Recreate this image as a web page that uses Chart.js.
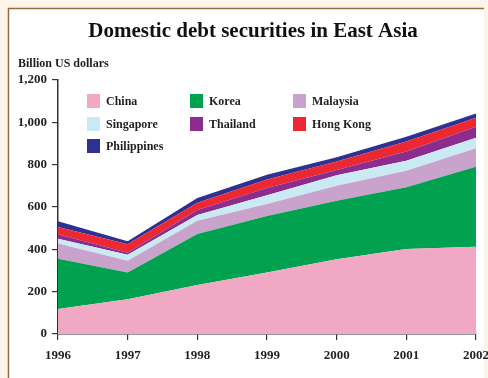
<!DOCTYPE html>
<html lang="en">
<head>
<meta charset="utf-8">
<title>Domestic debt securities in East Asia</title>
<script src="https://cdn.jsdelivr.net/npm/chart.js"></script>
<style>
  html, body { margin: 0; padding: 0; background: #fdf5ea; }
  #wrap { width: 488px; height: 378px; }
</style>
</head>
<body>
<div id="wrap"><canvas id="debtChart" width="488" height="378"></canvas></div>
<script>
// Data (billion US dollars)
const years = ['1996', '1997', '1998', '1999', '2000', '2001', '2002'];
const china       = [118, 164, 231, 290, 353, 401, 412];
const korea       = [238, 126, 241, 267, 277, 292, 378];
const malaysia    = [72, 56, 63, 57, 70, 78, 87];
const singapore   = [22, 28, 27, 41, 50, 48, 50];
const thailand    = [21, 10, 24, 35, 25, 43, 52];
const hongKong    = [34, 40, 34, 40, 40, 48, 43];
const philippines = [28, 14, 22, 22, 20, 22, 20];
const yTicks = [0, 200, 400, 600, 800, 1000, 1200];

const serif = '"Liberation Serif", "DejaVu Serif", serif';
const ink = '#231f20';

function area(label, data, color, fill) {
    return {
        label: label,
        data: data,
        backgroundColor: color,
        borderColor: color,
        borderWidth: 0,
        pointRadius: 0,
        tension: 0,
        fill: fill
    };
}

// panel background, title and axis caption
const frame = {
    id: 'frame',
    beforeDraw(chart) {
        const ctx = chart.ctx;
        ctx.save();
        ctx.fillStyle = '#fdf5ea';
        ctx.fillRect(0, 0, chart.width, chart.height);
        ctx.fillStyle = '#ffffff';
        ctx.fillRect(9, 9, 475, chart.height - 9);
        ctx.strokeStyle = '#9a6a3a';
        ctx.lineWidth = 1.5;
        ctx.beginPath();
        ctx.moveTo(8.5, chart.height);
        ctx.lineTo(8.5, 8.5);
        ctx.lineTo(484, 8.5);
        ctx.stroke();

        ctx.fillStyle = '#111';
        ctx.textAlign = 'center';
        ctx.textBaseline = 'middle';
        ctx.font = 'bold 21px ' + serif;
        ctx.fillText('Domestic debt securities in East Asia', 253, 32);

        ctx.fillStyle = ink;
        ctx.textAlign = 'left';
        ctx.font = 'bold 12px ' + serif;
        ctx.fillText('Billion US dollars', 18, 64);
        ctx.restore();
    }
};

// three-column legend inside the plot
const gridLegend = {
    id: 'gridLegend',
    afterDraw(chart) {
        const ctx = chart.ctx;
        const boxX = [87, 190, 293];
        const rowY = [101, 124, 146];
        ctx.save();
        ctx.font = 'bold 12px ' + serif;
        ctx.textBaseline = 'middle';
        ctx.textAlign = 'left';
        chart.data.datasets.forEach((ds, i) => {
            const x = boxX[i % 3];
            const y = rowY[Math.floor(i / 3)];
            ctx.fillStyle = ds.backgroundColor;
            ctx.fillRect(x, y - 7, 13, 14);
            ctx.fillStyle = ink;
            ctx.fillText(ds.label, x + 19, y + 1);
        });
        ctx.restore();
    }
};

new Chart(document.getElementById('debtChart'), {
    type: 'line',
    data: {
        labels: years,
        datasets: [
            area('China', china, '#f0a8c4', 'origin'),
            area('Korea', korea, '#00a14f', '-1'),
            area('Malaysia', malaysia, '#c9a3cc', '-1'),
            area('Singapore', singapore, '#c9e9f3', '-1'),
            area('Thailand', thailand, '#8c2d8e', '-1'),
            area('Hong Kong', hongKong, '#ec2833', '-1'),
            area('Philippines', philippines, '#2e3192', '-1')
        ]
    },
    options: {
        responsive: false,
        animation: false,
        layout: { padding: { top: 80, left: 0, right: 12, bottom: 0 } },
        plugins: {
            legend: { display: false },
            title: { display: false },
            tooltip: { enabled: false }
        },
        scales: {
            x: {
                offset: false,
                grid: { drawOnChartArea: false, drawTicks: true, tickLength: 6, color: '#333', lineWidth: 1.2 },
                border: { display: true, color: '#333', width: 1.5 },
                ticks: { color: ink, padding: 8, maxRotation: 0, font: { family: serif, size: 13, weight: 'bold' } },
                afterFit(s) { s.height = 44; s.paddingLeft = 0; s.paddingRight = 0; }
            },
            y: {
                stacked: true,
                min: 0,
                max: 1200,
                afterBuildTicks(s) { s.ticks = yTicks.map(v => ({ value: v })); },
                grid: { drawOnChartArea: false, drawTicks: true, tickLength: 6, color: '#333', lineWidth: 1.2 },
                border: { display: true, color: '#333', width: 1.5 },
                ticks: {
                    color: ink,
                    padding: 5,
                    font: { family: serif, size: 13, weight: 'bold' },
                    callback: v => v.toLocaleString('en-US')
                },
                afterFit(s) { s.width = 58; s.paddingTop = 0; s.paddingBottom = 0; }
            }
        }
    },
    plugins: [frame, gridLegend]
});
</script>
</body>
</html>
